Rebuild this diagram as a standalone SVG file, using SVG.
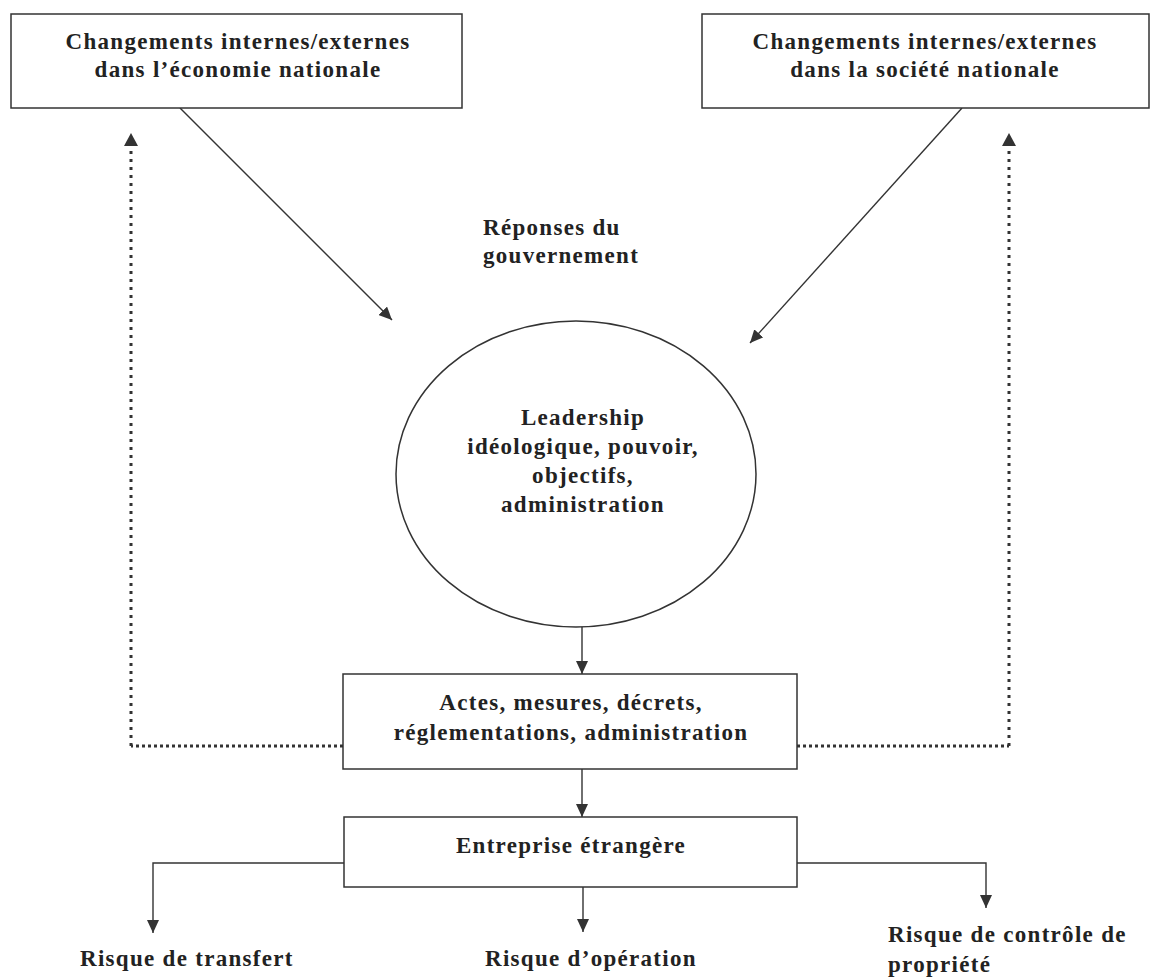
<svg xmlns="http://www.w3.org/2000/svg" width="1154" height="978" viewBox="0 0 1154 978">
  <style>
    .box { fill: #ffffff; stroke: #333333; stroke-width: 1.5; }
    .lbl { font-family: "Liberation Serif", "Times New Roman", serif; font-weight: bold; font-size: 23px; letter-spacing: 1.3px; fill: #222222; }
    .mid { text-anchor: middle; }
    .line { fill: none; stroke: #333333; stroke-width: 1.4; }
    .dot { fill: none; stroke: #333333; stroke-width: 3; stroke-dasharray: 3 5; }
    .doth { fill: none; stroke: #333333; stroke-width: 3; stroke-dasharray: 3 3; }
  </style>
  <defs>
    <marker id="arrow" markerUnits="userSpaceOnUse" markerWidth="14" markerHeight="12" refX="13" refY="6" orient="auto">
      <path d="M0,0 L13,6 L0,12 z" fill="#333333"/>
    </marker>
  </defs>
  <rect width="1154" height="978" fill="#ffffff"/>

  <!-- connectors -->
  <g id="connectors">
    <path class="line" d="M180,108 L392,320" marker-end="url(#arrow)"/>
    <path class="line" d="M962,108 L750,343" marker-end="url(#arrow)"/>
    <path class="line" d="M582,627 L582,674" marker-end="url(#arrow)"/>
    <path class="line" d="M582,769 L582,817" marker-end="url(#arrow)"/>
    <path class="line" d="M344,863 L153,863 L153,933" marker-end="url(#arrow)"/>
    <path class="line" d="M583,887 L583,932" marker-end="url(#arrow)"/>
    <path class="line" d="M797,863 L986,863 L986,908" marker-end="url(#arrow)"/>
    <!-- dotted feedback loops -->
    <path class="doth" d="M343,746 L131,746"/>
    <path class="dot" d="M131,746 L131,146"/>
    <path d="M124,146 L131,133 L138,146 z" fill="#333333"/>
    <path class="doth" d="M797,746 L1009,746"/>
    <path class="dot" d="M1009,746 L1009,146"/>
    <path d="M1002,146 L1009,133 L1016,146 z" fill="#333333"/>
  </g>

  <g id="economie">
    <rect class="box" x="11" y="14" width="451" height="94"/>
    <text class="lbl mid" x="238" y="49">Changements internes/externes</text>
    <text class="lbl mid" x="238" y="77">dans l’économie nationale</text>
  </g>

  <g id="societe">
    <rect class="box" x="702" y="14" width="447" height="94"/>
    <text class="lbl mid" x="925" y="49">Changements internes/externes</text>
    <text class="lbl mid" x="925" y="77">dans la société nationale</text>
  </g>

  <g id="reponses">
    <text class="lbl" x="483" y="235">Réponses du</text>
    <text class="lbl" x="483" y="263">gouvernement</text>
  </g>

  <g id="leadership">
    <ellipse class="box" cx="576" cy="474" rx="180" ry="153"/>
    <text class="lbl mid" x="583" y="425">Leadership</text>
    <text class="lbl mid" x="583" y="454">idéologique, pouvoir,</text>
    <text class="lbl mid" x="583" y="483">objectifs,</text>
    <text class="lbl mid" x="583" y="512">administration</text>
  </g>

  <g id="actes">
    <rect class="box" x="343" y="674" width="454" height="95"/>
    <text class="lbl mid" x="571" y="710">Actes, mesures, décrets,</text>
    <text class="lbl mid" x="571" y="740">réglementations, administration</text>
  </g>

  <g id="entreprise">
    <rect class="box" x="344" y="817" width="453" height="70"/>
    <text class="lbl mid" x="571" y="853">Entreprise étrangère</text>
  </g>

  <g id="risque-transfert">
    <text class="lbl" x="80" y="966">Risque de transfert</text>
  </g>
  <g id="risque-operation">
    <text class="lbl" x="485" y="966">Risque d’opération</text>
  </g>
  <g id="risque-propriete">
    <text class="lbl" x="888" y="942">Risque de contrôle de</text>
    <text class="lbl" x="888" y="972">propriété</text>
  </g>
</svg>
